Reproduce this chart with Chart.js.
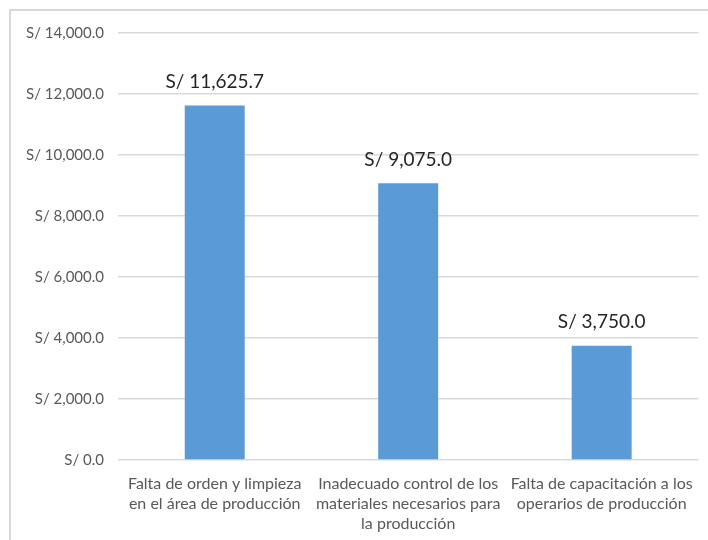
<!DOCTYPE html>
<html>
<head>
<meta charset="utf-8">
<script src="https://cdn.jsdelivr.net/npm/chart.js@4"></script>
<style>
    html, body { margin: 0; padding: 0; background: #fff; overflow: hidden; }
    #marco {
        position: absolute; left: 9px; top: 9px;
        width: 740px; height: 580px;
        border: 2px solid #d9d9d9;
    }
    #wrap { position: absolute; left: 0; top: 0; width: 708px; height: 540px; }
</style>
</head>
<body>
<div id="marco"></div>
<div id="wrap"><canvas id="chartCostos" width="708" height="540"></canvas></div>
<script>
// datos del gráfico
const categorias = [
    ['Falta de orden y limpieza', 'en el área de producción'],
    ['Inadecuado control de los', 'materiales necesarios para', 'la producción'],
    ['Falta de capacitación a los', 'operarios de producción']
];
const montos = [11625.7, 9075.0, 3750.0];
const ticksY = [0, 2000, 4000, 6000, 8000, 10000, 12000, 14000];

const FUENTE = "Lato, 'Open Sans', sans-serif";

function formatoSoles(v) {
    return 'S/ ' + v.toLocaleString('en-US', { minimumFractionDigits: 1, maximumFractionDigits: 1 });
}

// etiquetas encima de cada barra
const etiquetasBarras = {
    id: 'etiquetasBarras',
    afterDatasetsDraw(chart) {
        const ctx = chart.ctx;
        const meta = chart.getDatasetMeta(0);
        ctx.save();
        ctx.font = '19px ' + FUENTE;
        ctx.fillStyle = '#262626';
        ctx.textAlign = 'center';
        ctx.textBaseline = 'bottom';
        meta.data.forEach((bar, i) => {
            ctx.fillText(formatoSoles(montos[i]), bar.x, bar.y - 14);
        });
        ctx.restore();
    }
};

const ctx = document.getElementById('chartCostos');
new Chart(ctx, {
    type: 'bar',
    data: {
        labels: categorias,
        datasets: [{
            data: montos,
            backgroundColor: '#5b9bd5',
            borderWidth: 0,
            barPercentage: 0.31,
            categoryPercentage: 1.0
        }]
    },
    options: {
        responsive: false,
        animation: false,
        layout: { padding: { top: 33, right: 8, left: 0, bottom: 0 } },
        plugins: {
            legend: { display: false },
            tooltip: { enabled: false }
        },
        scales: {
            x: {
                grid: { display: false, drawTicks: false },
                border: { display: false },
                ticks: {
                    color: '#595959',
                    font: { family: FUENTE, size: 16, lineHeight: 1.25 },
                    padding: 14,
                    maxRotation: 0,
                    autoSkip: false
                },
                afterFit(scale) { scale.height = 80; }
            },
            y: {
                min: 0,
                max: 14000,
                afterBuildTicks(scale) {
                    scale.ticks = ticksY.map(v => ({ value: v }));
                },
                grid: { color: '#d9d9d9', lineWidth: 1.5, drawTicks: false },
                border: { display: false },
                ticks: {
                    color: '#595959',
                    font: { family: FUENTE, size: 15 },
                    padding: 14,
                    callback: v => formatoSoles(v)
                },
                afterFit(scale) { scale.width = 118; }
            }
        }
    },
    plugins: [etiquetasBarras]
});
</script>
</body>
</html>
